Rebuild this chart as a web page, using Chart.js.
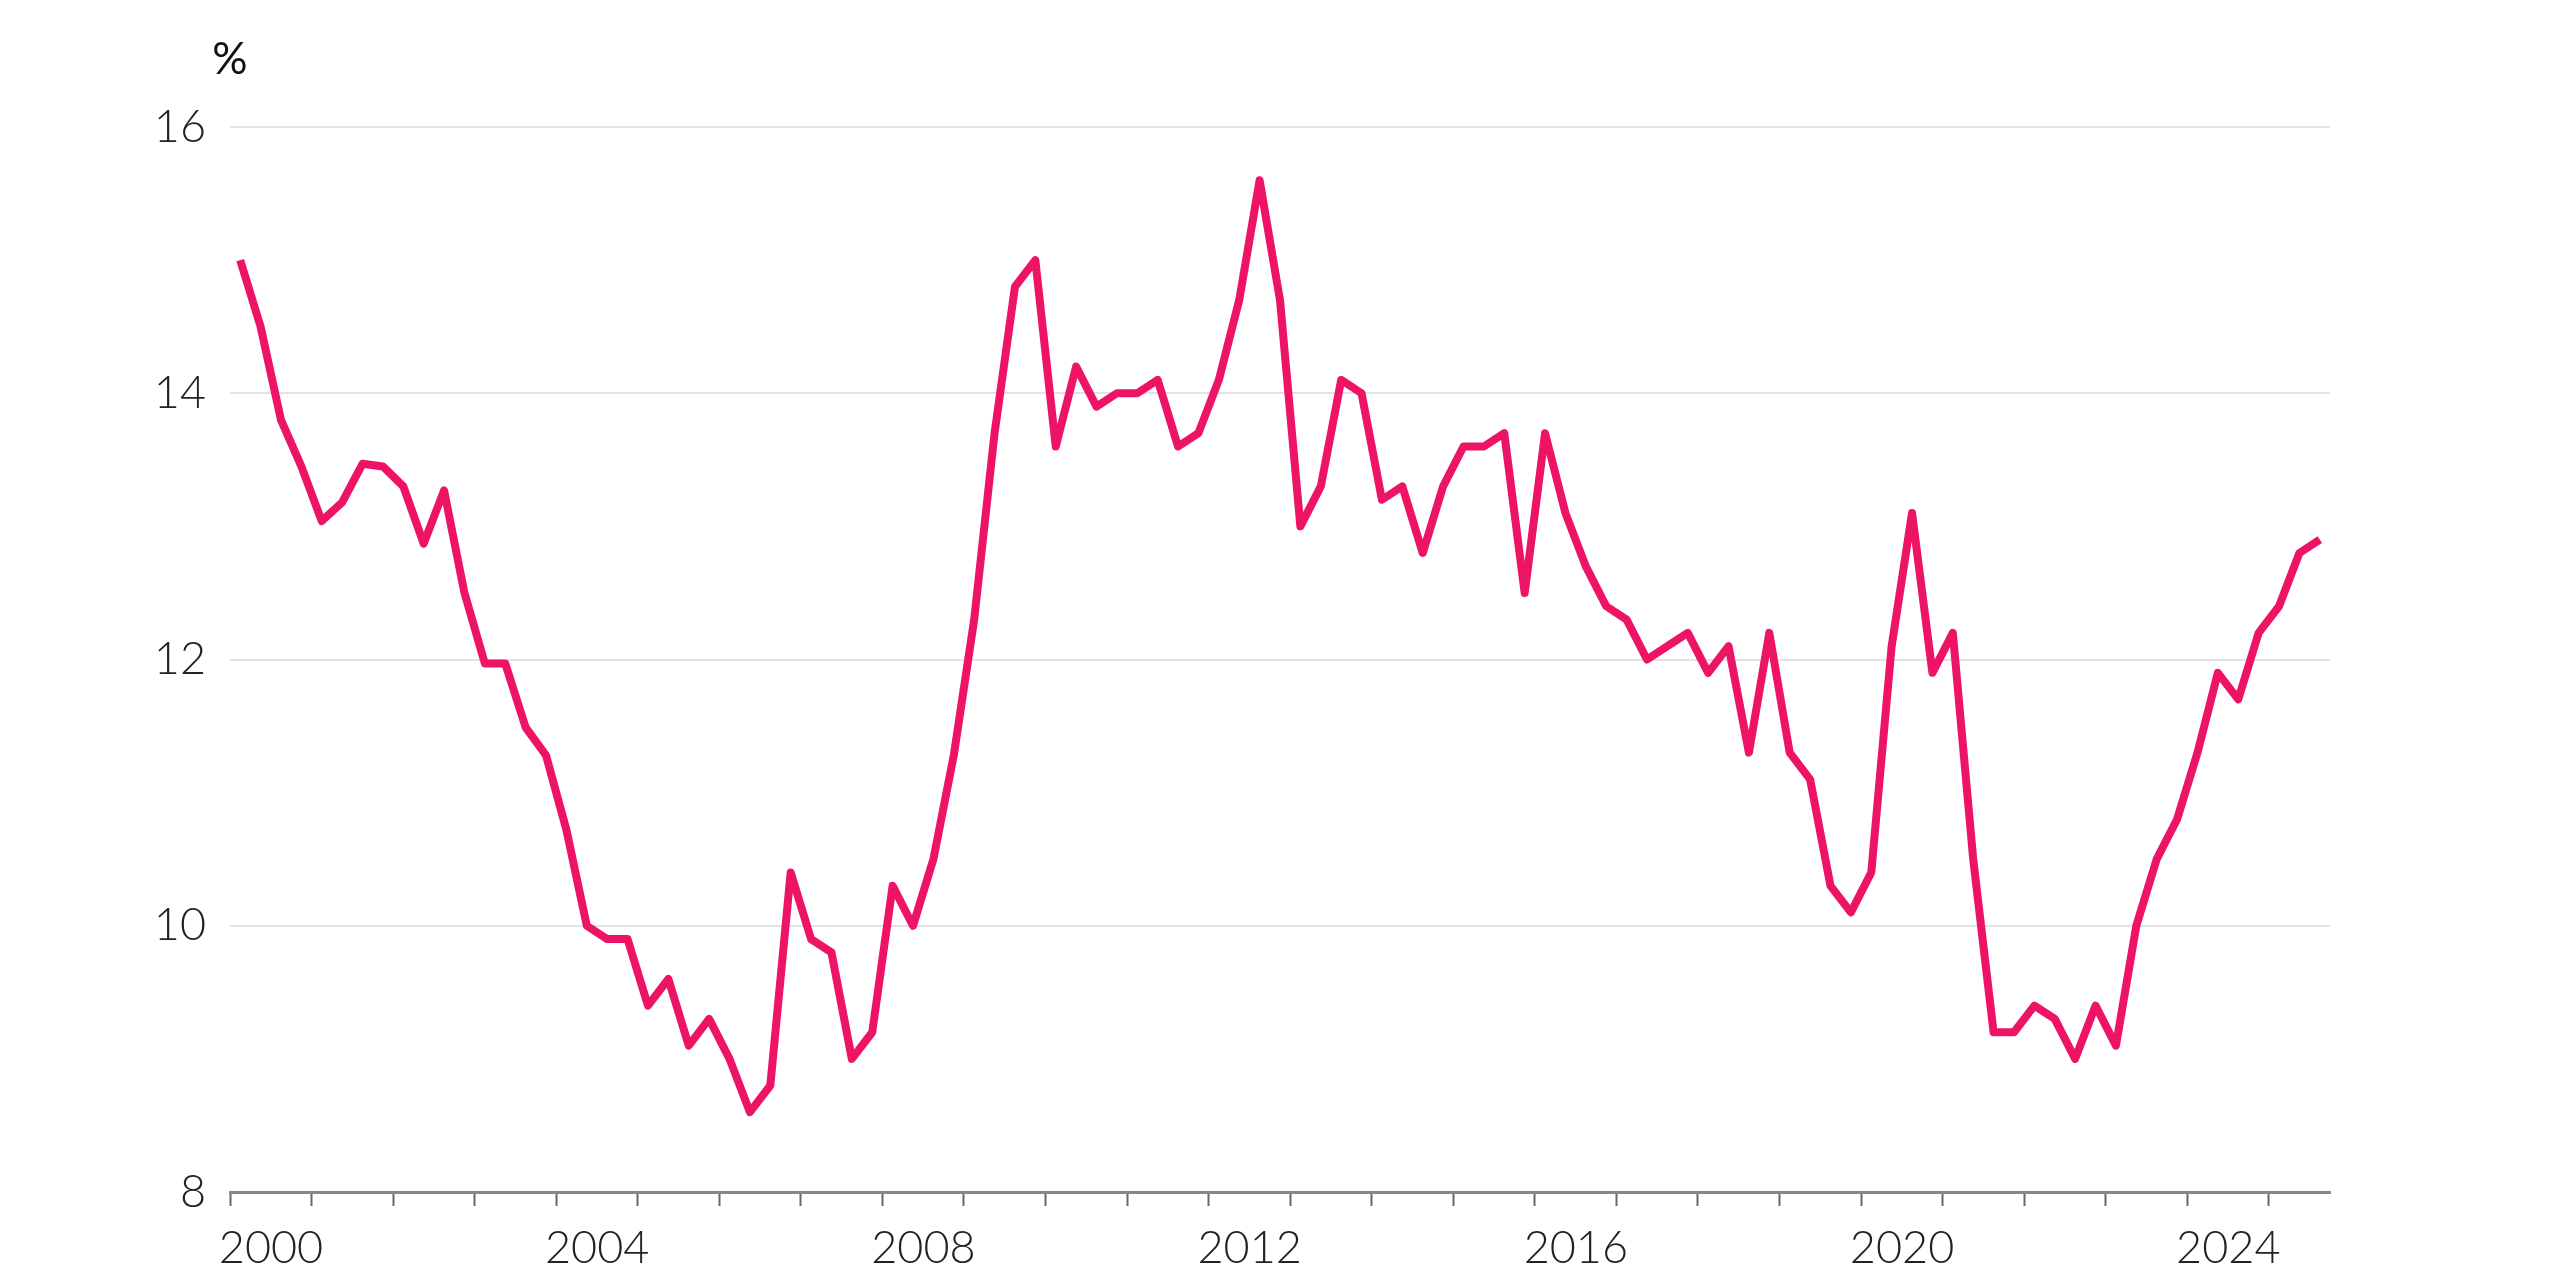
<!DOCTYPE html>
<html>
<head>
<meta charset="utf-8">
<script src="https://cdn.jsdelivr.net/npm/chart.js@4.4.1/dist/chart.umd.min.js"></script>
<style>
  body { margin: 0; background: #fff; }
  #wrap { width: 2560px; height: 1280px; }
</style>
</head>
<body>
<div id="wrap"><canvas class="js-chart" width="2560" height="1280"></canvas></div>
<script>
const ctx = document.querySelector(".js-chart").getContext("2d");

// quarterly series, 2000 Q1 .. 2025 Q3
const FIRST_YEAR = 2000;
const values = [
  15.0, 14.5, 13.8, 13.45, 13.04, 13.18, 13.47, 13.45, 13.3, 12.87,
  13.27, 12.5, 11.97, 11.97, 11.49, 11.28, 10.72, 10.0, 9.9, 9.9,
  9.4, 9.6, 9.1, 9.3, 9.0, 8.6, 8.8, 10.4, 9.9, 9.8,
  9.0, 9.2, 10.3, 10.0, 10.5, 11.28, 12.3, 13.7, 14.8, 15.0,
  13.6, 14.2, 13.9, 14.0, 14.0, 14.1, 13.6, 13.7, 14.1, 14.7,
  15.6, 14.7, 13.0, 13.3, 14.1, 14.0, 13.2, 13.3, 12.8, 13.3,
  13.6, 13.6, 13.7, 12.5, 13.7, 13.1, 12.7, 12.4, 12.3, 12.0,
  12.1, 12.2, 11.9, 12.1, 11.3, 12.2, 11.3, 11.1, 10.3, 10.1,
  10.4, 12.1, 13.1, 11.9, 12.2, 10.5, 9.2, 9.2, 9.4, 9.3,
  9.0, 9.4, 9.1, 10.0, 10.5, 10.8, 11.3, 11.9, 11.7, 12.2,
  12.4, 12.8, 12.9,
];
const tickYears = [
  2000, 2001, 2002, 2003, 2004, 2005, 2006, 2007, 2008, 2009, 2010, 2011, 2012,
  2013, 2014, 2015, 2016, 2017, 2018, 2019, 2020, 2021, 2022, 2023, 2024, 2025,
];
const labelYears = [2000, 2004, 2008, 2012, 2016, 2020, 2024];
const yTicks = [8, 10, 12, 14, 16];

// each quarter sits in the middle of its period
const points = values.map((v, i) => ({ x: FIRST_YEAR + (i + 0.5) / 4, y: v }));

const FONT = { family: "Lato, 'Open Sans', sans-serif", size: 45, weight: 300 };

const unitLabel = {
  id: "unitLabel",
  afterDraw(chart) {
    const c = chart.ctx;
    c.save();
    c.font = "400 44px Lato, 'Open Sans', sans-serif";
    c.fillStyle = "#111";
    c.textAlign = "center";
    c.textBaseline = "middle";
    c.fillText("%", chart.chartArea.left, 60);
    c.restore();
  },
};

new Chart(ctx, {
  type: "line",
  data: {
    datasets: [
      {
        data: points,
        borderColor: "#ED1466",
        borderWidth: 8,
        borderJoinStyle: "round",
        borderCapStyle: "butt",
        pointRadius: 0,
        tension: 0,
      },
    ],
  },
  options: {
    responsive: false,
    animation: false,
    layout: { padding: { top: 127, right: 230, bottom: 0, left: 0 } },
    plugins: { legend: { display: false }, tooltip: { enabled: false } },
    scales: {
      x: {
        type: "linear",
        min: 2000,
        max: 2025.75,
        afterBuildTicks(axis) {
          axis.ticks = tickYears.map((v) => ({ value: v }));
        },
        afterFit(axis) {
          axis.height = 88;
        },
        grid: {
          drawOnChartArea: false,
          drawTicks: true,
          tickLength: 14,
          tickColor: "#666",
          tickWidth: 2,
        },
        border: { color: "#888", width: 3 },
        ticks: {
          autoSkip: false,
          maxRotation: 0,
          padding: 15,
          labelOffset: 41,
          color: "#222",
          font: FONT,
          callback(value) {
            return labelYears.includes(value) ? String(value) : "";
          },
        },
      },
      y: {
        min: 8,
        max: 16,
        afterBuildTicks(axis) {
          axis.ticks = yTicks.map((v) => ({ value: v }));
        },
        afterFit(axis) {
          axis.width = 230;
        },
        grid: { color: "#e3e3e3", lineWidth: 2, drawTicks: false },
        border: { display: false },
        ticks: { padding: 24, color: "#222", font: FONT },
      },
    },
  },
  plugins: [unitLabel],
});
</script>
</body>
</html>
